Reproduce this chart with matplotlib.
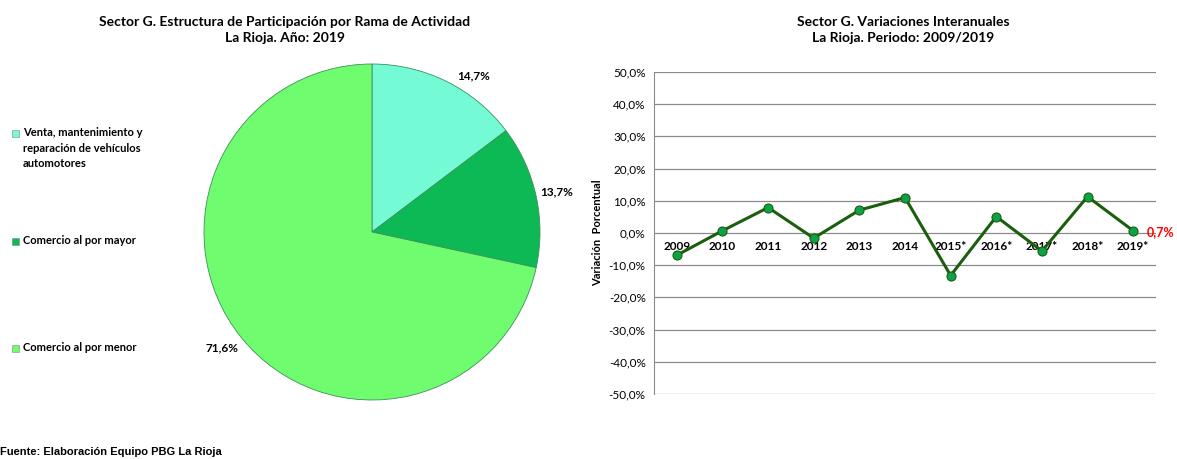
import matplotlib.pyplot as plt

# pie data
ramas = ["Venta, mantenimiento y\nreparación de vehículos\nautomotores",
         "Comercio al por mayor",
         "Comercio al por menor"]
participacion = [14.7, 13.7, 71.6]
pie_labels = ["14,7%", "13,7%", "71,6%"]
pie_colors = ["#74FBD6", "#0CB955", "#6FFC6F"]

# line data
anios = ["2009", "2010", "2011", "2012", "2013", "2014",
         "2015*", "2016*", "2017*", "2018*", "2019*"]
variacion = [-6.9, 0.7, 7.9, -1.6, 7.1, 11.0, -13.2, 5.1, -5.6, 11.3, 0.7]

plt.rcParams['font.family'] = ['Lato', 'DejaVu Sans']

fig = plt.figure(figsize=(11.77, 4.59), dpi=100)
W, H = 1177, 459

# ---- pie ----
r = 168
cx, cy = 372, 232
ax1 = fig.add_axes([(cx - r) / W, 1 - (cy + r) / H, 2 * r / W, 2 * r / H])
wedges, _ = ax1.pie(participacion, colors=pie_colors, startangle=90,
                    counterclock=False, radius=1,
                    wedgeprops=dict(edgecolor="#3f8f5a", linewidth=0.6))
ax1.set_xlim(-1, 1)
ax1.set_ylim(-1, 1)
ax1.set_aspect("auto")

# pie labels (figure coords)
fig.text(474 / W, 1 - 76 / H, pie_labels[0], fontsize=8.5, fontweight="bold",
         ha="center", va="center")
fig.text(557 / W, 1 - 192 / H, pie_labels[1], fontsize=8.5, fontweight="bold",
         ha="center", va="center")
fig.text(222 / W, 1 - 348 / H, pie_labels[2], fontsize=8.5, fontweight="bold",
         ha="center", va="center")

fig.text(285 / W, 1 - 30 / H,
         "Sector G. Estructura de Participación por Rama de Actividad\nLa Rioja. Año: 2019",
         fontsize=10, fontweight="bold", ha="center", va="center", linespacing=1.5)

# legend
leg_y = [133, 241, 348]
for name, col, y in zip(ramas, pie_colors, leg_y):
    fig.patches.append(plt.Rectangle((12 / W, 1 - (y + 4) / H), 7 / W, 7 / H,
                                     transform=fig.transFigure, facecolor=col,
                                     edgecolor="#888888", linewidth=0.4))
    fig.text(23 / W, 1 - (y - 6) / H, name, fontsize=8, fontweight="bold",
             ha="left", va="top", linespacing=1.5)

fig.text(0, 1 - 452 / H, "Fuente: Elaboración Equipo PBG La Rioja",
         fontsize=8, fontweight="bold", family="Liberation Sans",
         ha="left", va="center")

# ---- line chart ----
x0, x1 = 654, 1156
y0, y1 = 72, 394
ax2 = fig.add_axes([x0 / W, 1 - y1 / H, (x1 - x0) / W, (y1 - y0) / H])
xs = list(range(len(anios)))
ax2.plot(xs, variacion, color="#1B5E0B", linewidth=2.2, marker="o",
         markersize=6.5, markerfacecolor="#0CA24A", markeredgecolor="#1B5E0B",
         markeredgewidth=0.8, zorder=3)
ax2.set_xlim(-0.5, len(anios) - 0.5)
ax2.set_ylim(-50, 50)
ax2.set_yticks(range(-50, 51, 10))
ax2.set_yticklabels([f"{v},0%" for v in range(-50, 51, 10)], fontsize=8.5)
ax2.yaxis.grid(True, color="#8a8a8a", linewidth=0.9)
ax2.set_axisbelow(True)
ax2.set_xticks([])
for s in ["top", "right", "bottom"]:
    ax2.spines[s].set_visible(False)
ax2.spines["left"].set_color("#8a8a8a")
ax2.tick_params(axis="y", length=0, pad=6)

for x, lab in zip(xs, anios):
    ax2.text(x, -4.3, lab, fontsize=8.5, fontweight="bold", ha="center",
             va="center", zorder=2)

ax2.text(len(anios) - 1 + 0.3, variacion[-1] - 0.4, "0,7%", color="#FF0000",
         fontsize=9, fontweight="bold", ha="left", va="center", clip_on=False)

ax2.set_ylabel("Variación  Porcentual", fontsize=8, fontweight="bold", labelpad=4)

fig.text(903 / W, 1 - 30 / H,
         "Sector G. Variaciones Interanuales\nLa Rioja. Periodo: 2009/2019",
         fontsize=10, fontweight="bold", ha="center", va="center", linespacing=1.5)

fig.savefig("out.png", dpi=100)
